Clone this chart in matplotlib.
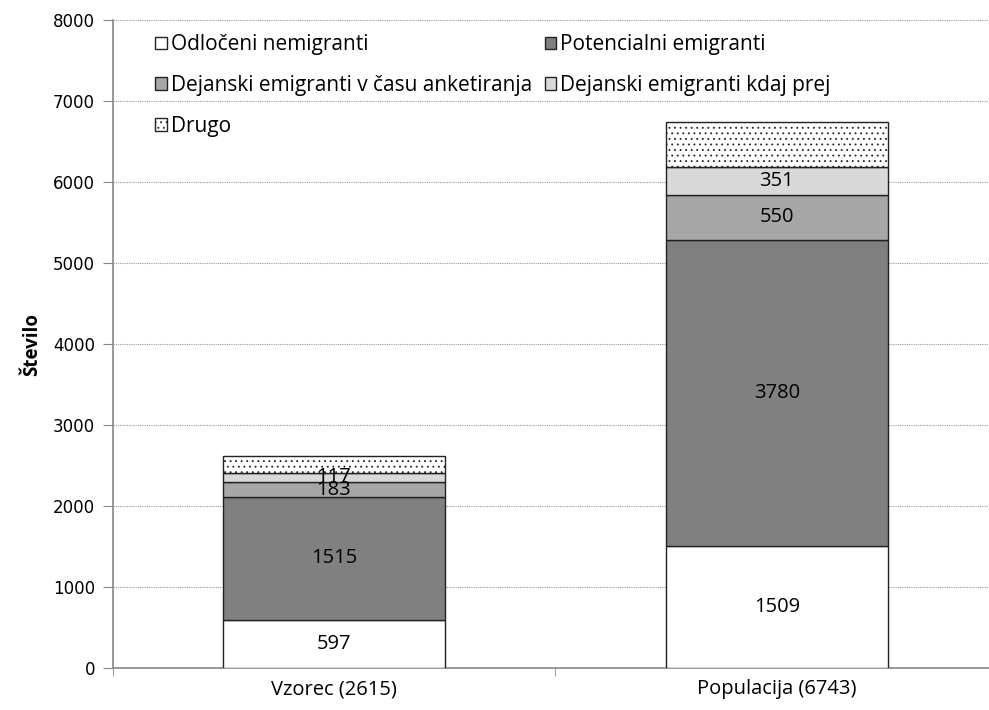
import matplotlib.pyplot as plt
import numpy as np

categories = ['Vzorec (2615)', 'Populacija (6743)']
series_names = ['Odločeni nemigranti', 'Potencialni emigranti',
                'Dejanski emigranti v času anketiranja', 'Dejanski emigranti kdaj prej',
                'Drugo']
odloceni = [597, 1509]
potencialni = [1515, 3780]
dejanski_zdaj = [183, 550]
dejanski_prej = [117, 351]
drugo = [203, 553]

plt.rcParams['font.family'] = ['Open Sans', 'DejaVu Sans']
plt.rcParams['hatch.color'] = '#222222'
plt.rcParams['hatch.linewidth'] = 0.6

fig = plt.figure(figsize=(9.89, 7.1), dpi=100)
ax = fig.add_axes([113 / 989, 1 - 668 / 710, 1 - 113 / 989, (668 - 20) / 710])

series = [odloceni, potencialni, dejanski_zdaj, dejanski_prej, drugo]
colors = ['white', '#808080', '#a6a6a6', '#d9d9d9', 'white']
hatches = [None, None, None, None, '...']
x = np.arange(len(categories))
bottom = np.zeros(len(categories))
handles = []
for i, (vals, c, h) in enumerate(zip(series, colors, hatches)):
    bars = ax.bar(x, vals, 0.5, bottom=bottom, color=c, edgecolor='#222222',
                  linewidth=1.0, hatch=h, label=series_names[i], zorder=3)
    handles.append(bars)
    if i < 4:
        for xi, v, b in zip(x, vals, bottom):
            ax.text(xi, b + v / 2, str(v), ha='center', va='center',
                    fontsize=14.5, zorder=4)
    bottom += np.array(vals)

ax.set_ylim(0, 8000)
ax.set_xlim(-0.499, 1.479)
ax.set_yticks(np.arange(0, 8001, 1000))
ax.set_yticklabels([str(v) for v in range(0, 8001, 1000)], family='DejaVu Sans', fontsize=12)
ax.yaxis.grid(True, linestyle=(0, (1, 1)), color='#999999', linewidth=0.8, zorder=0)
ax.set_xticks([-0.499, 0.5], minor=True)
ax.set_xticks(x)
ax.set_xticklabels(categories, fontsize=14.5)
ax.tick_params(axis='x', which='major', length=0, pad=8)
ax.tick_params(axis='x', which='minor', length=6, color='#888888')
ax.tick_params(axis='y', length=7, color='#888888', direction='out', pad=6)
ax.set_ylabel('Število', fontsize=13.5, fontweight='bold', labelpad=8)

for s in ['top', 'right']:
    ax.spines[s].set_visible(False)
for s in ['left', 'bottom']:
    ax.spines[s].set_color('#888888')
    ax.spines[s].set_linewidth(1.2)

# legend reads row by row: reorder for column-wise fill
order = [0, 2, 4, 1, 3]
leg = ax.legend([handles[i] for i in order], [series_names[i] for i in order],
                ncol=2, loc='upper left', bbox_to_anchor=(0.027, 1.007), frameon=False,
                fontsize=15, handlelength=0.55, handleheight=0.55, handletextpad=0.2,
                columnspacing=0.6, labelspacing=0.95)

fig.savefig('out.png', dpi=100)
